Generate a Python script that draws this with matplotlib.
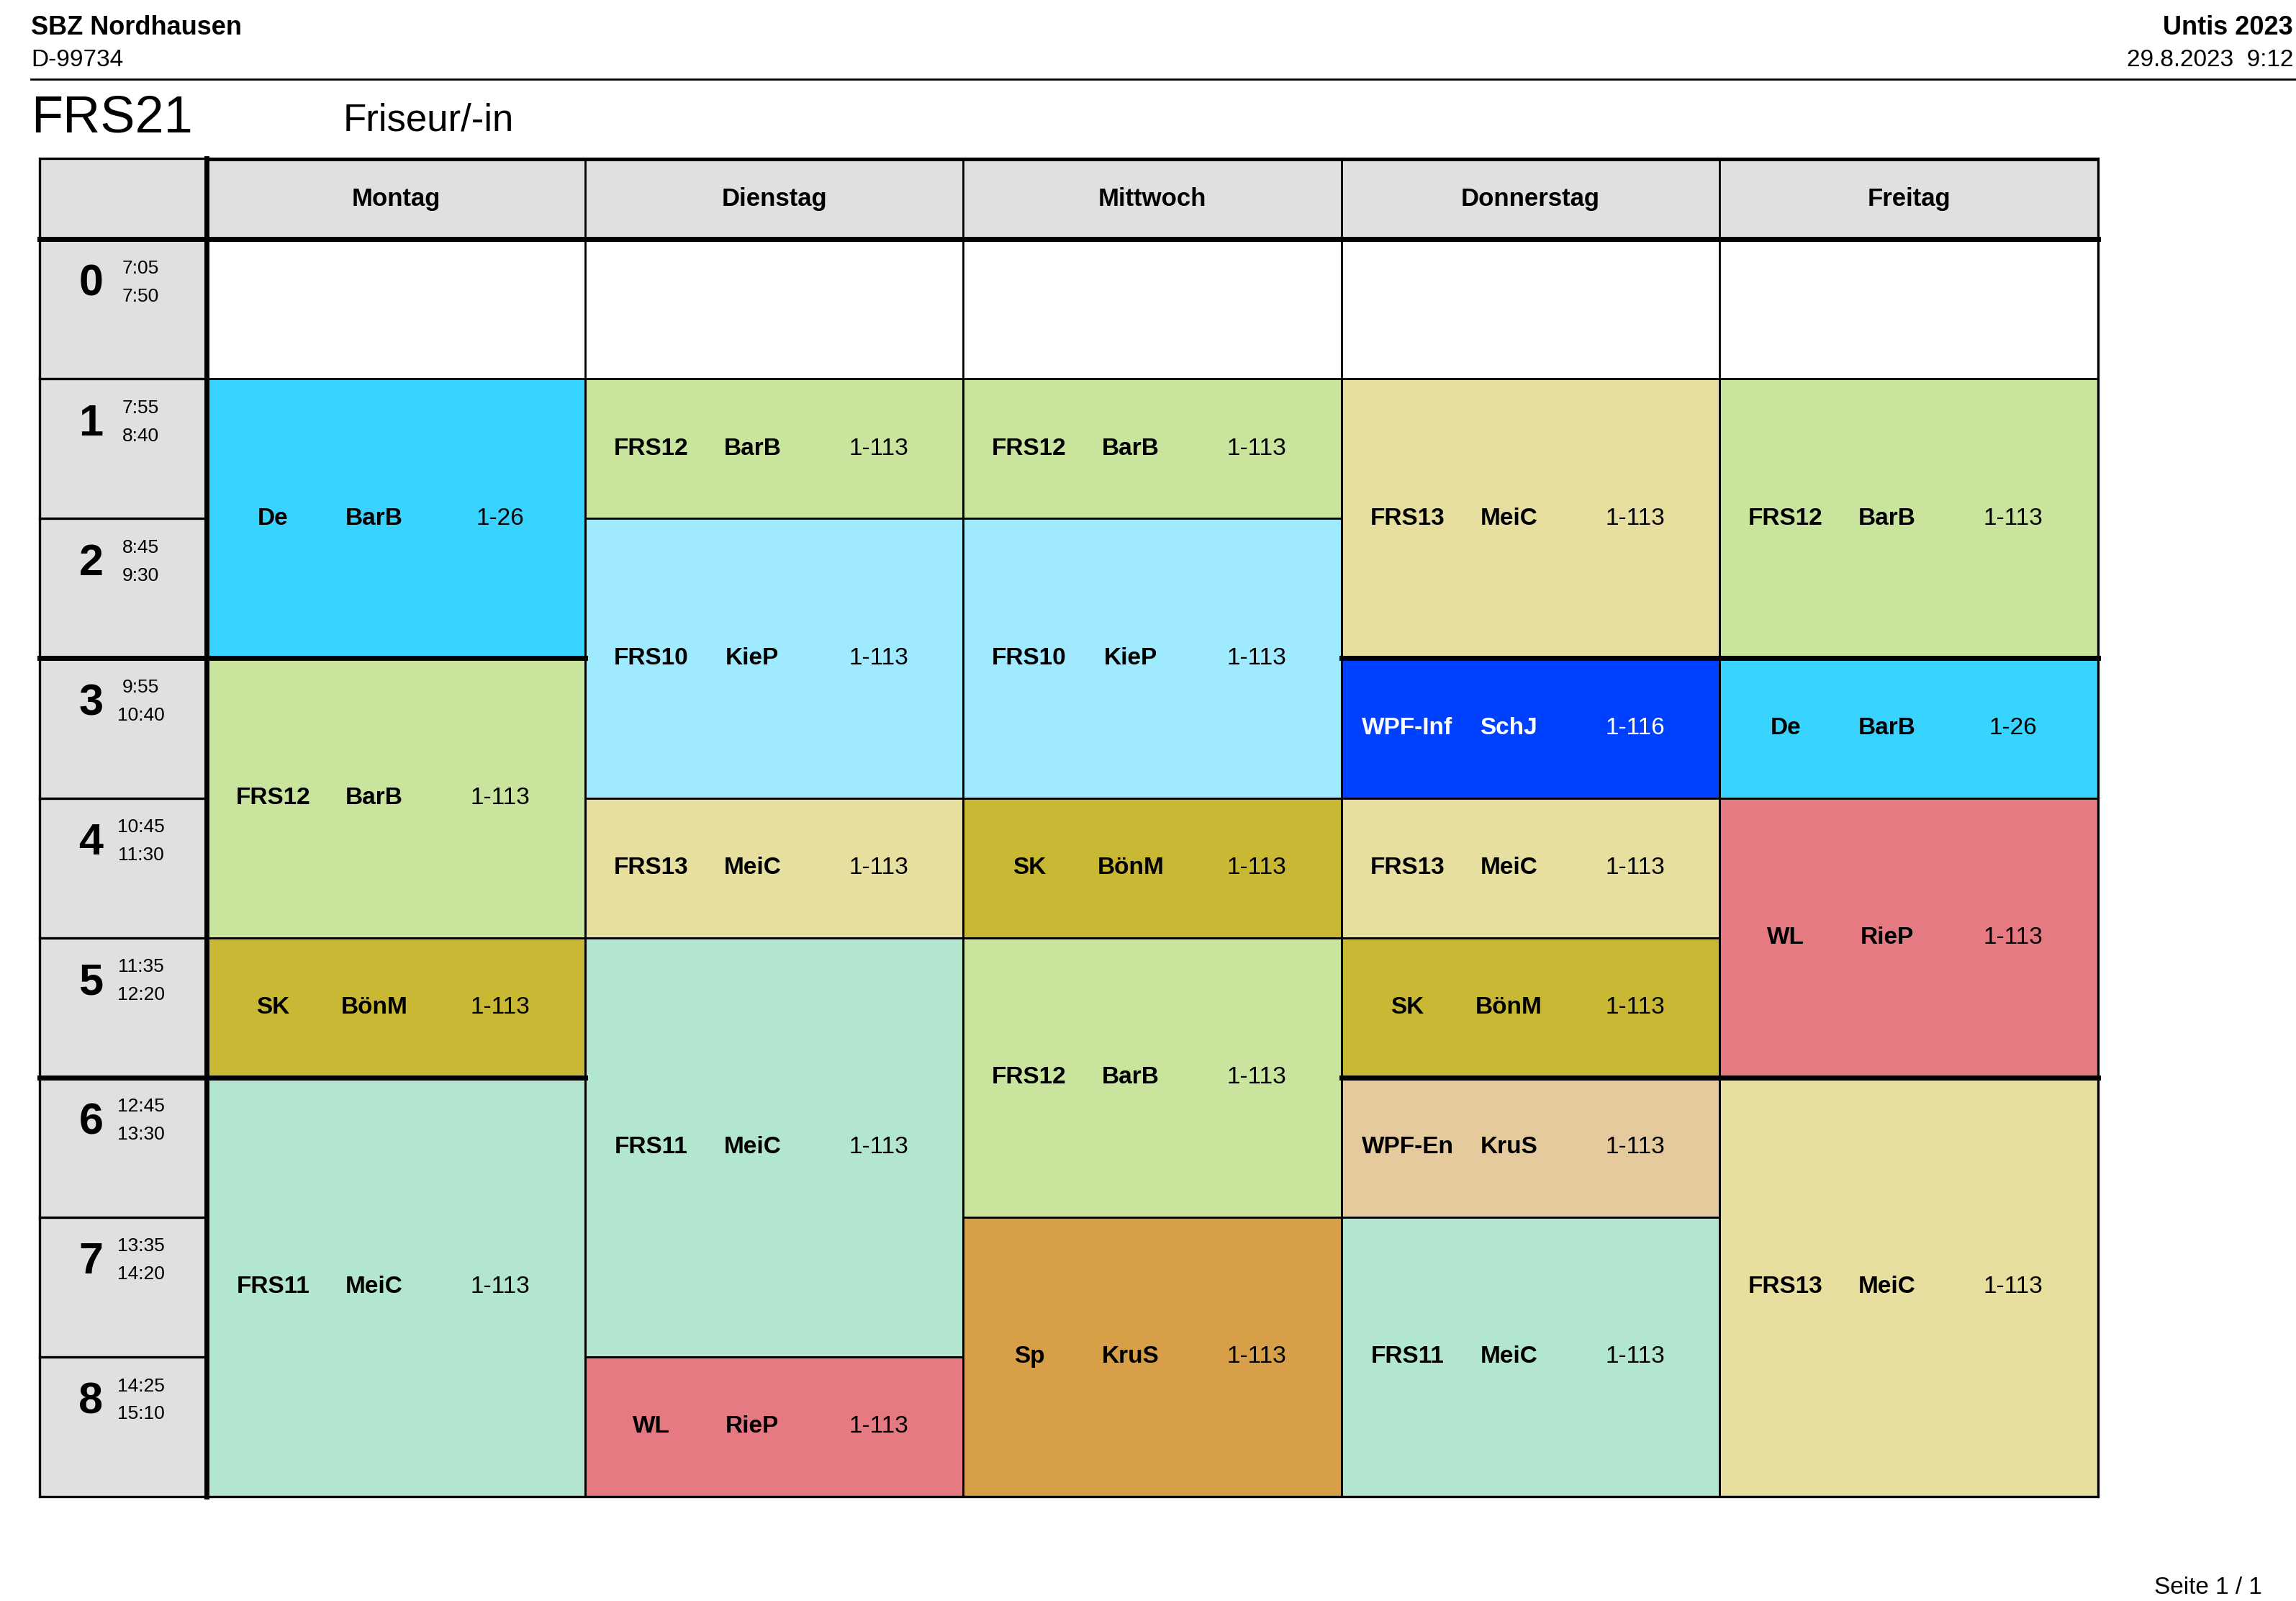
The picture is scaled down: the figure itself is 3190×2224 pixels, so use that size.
import matplotlib
matplotlib.use("Agg")
import matplotlib.pyplot as plt
from matplotlib.patches import Rectangle

plt.rcParams["font.family"] = "Liberation Sans"

days = ["Montag", "Dienstag", "Mittwoch", "Donnerstag", "Freitag"]
periods = ["0", "1", "2", "3", "4", "5", "6", "7", "8"]
starts = ["7:05", "7:55", "8:45", "9:55", "10:45", "11:35", "12:45", "13:35", "14:25"]
ends = ["7:50", "8:40", "9:30", "10:40", "11:30", "12:20", "13:30", "14:20", "15:10"]

colors = {"De": "#38D3FF", "FRS12": "#C9E59D", "SK": "#C8B834", "FRS11": "#B2E6CF",
          "FRS10": "#A0EAFF", "FRS13": "#E6DF9F", "WL": "#E57A82", "Sp": "#D7A048",
          "WPF-Inf": "#0040FF", "WPF-En": "#E5CA9E"}

# (day, first period, number of periods, subject, teacher, room)
lesson_day = [0, 0, 0, 0, 1, 1, 1, 1, 1, 2, 2, 2, 2, 2, 3, 3, 3, 3, 3, 3, 4, 4, 4, 4]
lesson_start = [1, 3, 5, 6, 1, 2, 4, 5, 8, 1, 2, 4, 5, 7, 1, 3, 4, 5, 6, 7, 1, 3, 4, 6]
lesson_len = [2, 2, 1, 3, 1, 2, 1, 3, 1, 1, 2, 1, 2, 2, 2, 1, 1, 1, 1, 2, 2, 1, 2, 3]
lesson_subj = ["De", "FRS12", "SK", "FRS11", "FRS12", "FRS10", "FRS13", "FRS11", "WL",
               "FRS12", "FRS10", "SK", "FRS12", "Sp", "FRS13", "WPF-Inf", "FRS13", "SK",
               "WPF-En", "FRS11", "FRS12", "De", "WL", "FRS13"]
lesson_teacher = ["BarB", "BarB", "BönM", "MeiC", "BarB", "KieP", "MeiC", "MeiC", "RieP",
                  "BarB", "KieP", "BönM", "BarB", "KruS", "MeiC", "SchJ", "MeiC", "BönM",
                  "KruS", "MeiC", "BarB", "BarB", "RieP", "MeiC"]
lesson_room = ["1-26", "1-113", "1-113", "1-113", "1-113", "1-113", "1-113", "1-113", "1-113",
               "1-113", "1-113", "1-113", "1-113", "1-113", "1-113", "1-116", "1-113", "1-113",
               "1-113", "1-113", "1-113", "1-26", "1-113", "1-113"]

W, H = 1565, 1091
fig = plt.figure(figsize=(15.95, 11.12), dpi=200)
ax = fig.add_axes([0, 0, 1, 1])
ax.set_xlim(0, W); ax.set_ylim(H, 0); ax.axis("off")

x0, xt, dw = 27, 141, 257.8
y_head, y0, ph = 108, 163, 95.2
gray = "#E0E0E0"
xe = xt + 5 * dw
ye = y0 + 9 * ph

# headers
ax.add_patch(Rectangle((x0, y_head), xe - x0, y0 - y_head, fc=gray, ec="none"))
ax.add_patch(Rectangle((x0, y0), xt - x0, ye - y0, fc=gray, ec="none"))
for i, d in enumerate(days):
    ax.text(xt + (i + .5) * dw, (y_head + y0) / 2, d, ha="center", va="center",
            fontsize=12.5, fontweight="bold")
for p in range(9):
    yy = y0 + p * ph
    ax.text(62, yy + 31, periods[p], ha="center", va="center", fontsize=22, fontweight="bold")
    ax.text(96, yy + 20, starts[p], ha="center", va="center", fontsize=9.5)
    ax.text(96, yy + 39, ends[p], ha="center", va="center", fontsize=9.5)
    ax.plot([x0, xt], [yy, yy], color="black", lw=1.2 if p not in (3, 6) else 2.5)
for i in range(6):
    ax.plot([xt + i * dw] * 2, [y_head, ye], color="black", lw=1)
ax.plot([xt, xe], [y_head + 1, y_head + 1], color="black", lw=1)

# lessons
for d, s, n, su, te, ro in zip(lesson_day, lesson_start, lesson_len, lesson_subj,
                               lesson_teacher, lesson_room):
    x = xt + d * dw
    y = y0 + s * ph
    h = n * ph
    ax.add_patch(Rectangle((x, y), dw, h, fc=colors[su], ec="black", lw=1))
    tc = "white" if su == "WPF-Inf" else "black"
    cy = y + h / 2
    ax.text(x + 45, cy, su, ha="center", va="center", fontsize=12, fontweight="bold", color=tc)
    ax.text(x + 114, cy, te, ha="center", va="center", fontsize=12, fontweight="bold", color=tc)
    ax.text(x + 200, cy, ro, ha="center", va="center", fontsize=12, color=tc)

# thick break lines where lessons break
for p in (3, 6):
    yy = y0 + p * ph
    for d in range(5):
        if any(ld == d and ls == p for ld, ls in zip(lesson_day, lesson_start)):
            ax.plot([xt + d * dw, xt + (d + 1) * dw], [yy, yy], color="black", lw=2.5)

ax.plot([xt, xt], [y_head, ye], color="black", lw=2.5)
ax.plot([x0, xe], [y0, y0], color="black", lw=2.5)
ax.add_patch(Rectangle((x0, y_head), xe - x0, ye - y_head, fc="none", ec="black", lw=1.2))

# page header
ax.text(21, 19, "SBZ Nordhausen", ha="left", va="center", fontsize=13, fontweight="bold")
ax.text(21, 41, "D-99734", ha="left", va="center", fontsize=12)
ax.text(1563, 19, "Untis 2023", ha="right", va="center", fontsize=13, fontweight="bold")
ax.text(1563, 41, "29.8.2023  9:12", ha="right", va="center", fontsize=12)
ax.plot([21, 1565], [54, 54], color="black", lw=1)
ax.text(21, 81, "FRS21", ha="left", va="center", fontsize=26)
ax.text(234, 82, "Friseur/-in", ha="left", va="center", fontsize=19)
ax.text(1542, 1082, "Seite 1 / 1", ha="right", va="center", fontsize=12)

fig.savefig("out.png", dpi=200)
